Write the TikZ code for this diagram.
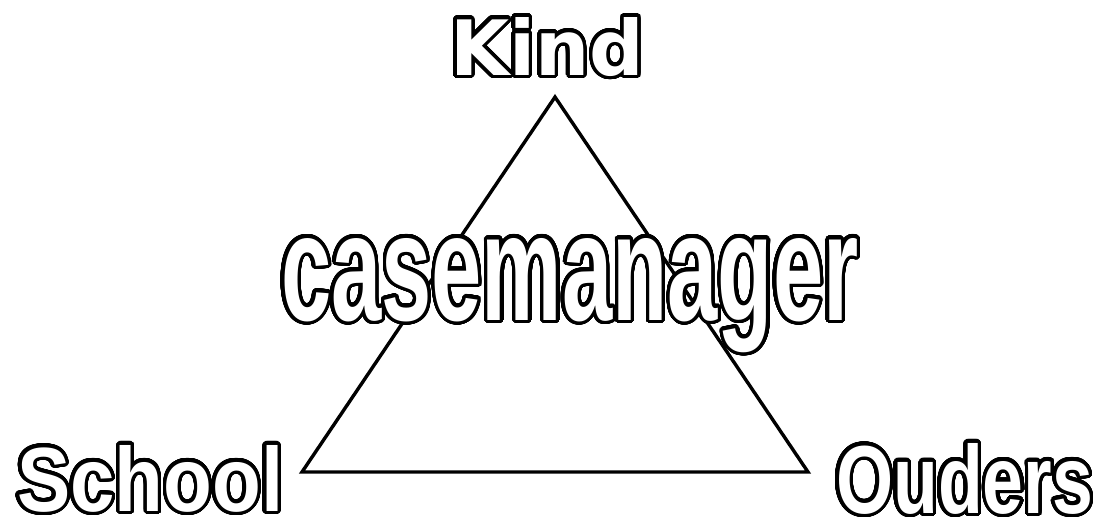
\documentclass[tikz,border=0pt]{standalone}
\usepackage{fontspec}
\usepackage{graphicx}
\usepackage{contour}
\usetikzlibrary{positioning}
\setmainfont{Liberation Sans}
\newfontfamily\kindfont{DejaVu Sans}
\contourlength{3.3pt}
\contournumber{64}
\definecolor{cmInk}{HTML}{000000}
\definecolor{cmPaper}{HTML}{FFFFFF}
\newcommand{\hollow}[3]{\contour{cmInk}{\resizebox{#1}{#2}{#3}}}
\tikzset{
    x=1pt, y=-1pt,
    word/.style={inner sep=0pt, outer sep=0pt, text=cmPaper, font=\bfseries, anchor=base west},
    side/.style={draw=cmInk, line width=3.4pt, line join=miter}
}
\begin{document}
\begin{tikzpicture}
\useasboundingbox[fill=cmPaper] (0,0) rectangle (1102,522);
% triangle
\coordinate (top) at (555,97);
\coordinate (left) at (302,472);
\coordinate (right) at (808,472);
\draw[side] (top) -- (left) -- (right) -- cycle;
% labels
\node[word, font=\kindfont\bfseries] (kind) at (450,75) {\hollow{194pt}{58pt}{Kind}};
\node[word] (school) at (17,511) {\hollow{266pt}{66pt}{School}};
\node[word] (ouders) at (836,513) {\hollow{257pt}{70pt}{Ouders}};
\node[word] (cm) at (281,320) {\hollow{577pt}{82pt}{casemanager}};
\end{tikzpicture}
\end{document}
